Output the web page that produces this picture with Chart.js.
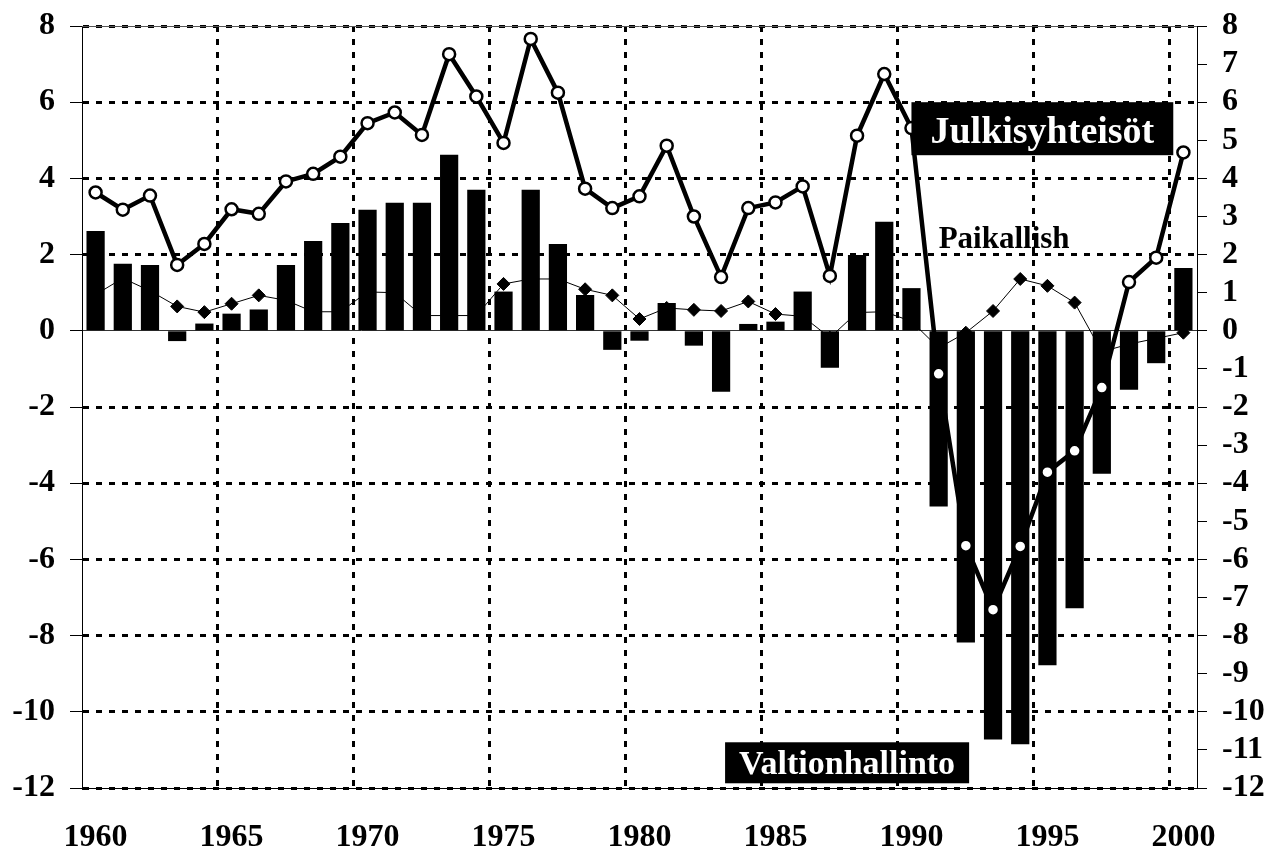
<!DOCTYPE html>
<html lang="fi">
<head>
<meta charset="utf-8">
<title>Julkisyhteisöjen rahoitusjäämä</title>
<script src="https://cdn.jsdelivr.net/npm/chart.js@4/dist/chart.umd.min.js"></script>
<style>
  html, body { margin: 0; padding: 0; background: #fff; }
  #kaavio { display: block; }
</style>
</head>
<body>
<canvas id="kaavio" width="1269" height="852"></canvas>
<script>
// --- Data (luettu kuvasta) ---
const vuodet = [
  "1960", "1961", "1962", "1963", "1964", "1965", "1966", "1967", "1968", "1969",
  "1970", "1971", "1972", "1973", "1974", "1975", "1976", "1977", "1978", "1979",
  "1980", "1981", "1982", "1983", "1984", "1985", "1986", "1987", "1988", "1989",
  "1990", "1991", "1992", "1993", "1994", "1995", "1996", "1997", "1998", "1999",
  "2000"
];

// Valtionhallinto (pylväät)
const valtio = [
  2.62, 1.76, 1.73, -0.27, 0.19, 0.45, 0.56, 1.73, 2.36, 2.83,
  3.18, 3.36, 3.36, 4.62, 3.70, 1.03, 3.70, 2.28, 0.94, -0.50,
  -0.26, 0.73, -0.39, -1.60, 0.18, 0.24, 1.03, -0.97, 1.99, 2.86,
  1.12, -4.61, -8.18, -10.73, -10.85, -8.78, -7.28, -3.75, -1.55, -0.85,
  1.65
];

// Julkisyhteisöt (paksu viiva, valkoiset pallot)
const julkiset = [
  3.63, 3.18, 3.55, 1.73, 2.28, 3.19, 3.07, 3.92, 4.12, 4.57,
  5.45, 5.73, 5.14, 7.26, 6.15, 4.93, 7.66, 6.25, 3.73, 3.22,
  3.53, 4.86, 3.00, 1.41, 3.22, 3.37, 3.79, 1.44, 5.12, 6.74,
  5.32, -1.13, -5.64, -7.32, -5.66, -3.71, -3.15, -1.49, 1.28, 1.92,
  4.68
];

// Paikallishallinto (ohut viiva, vinoneliöt)
const paikalliset = [
  0.95, 1.38, 1.05, 0.64, 0.49, 0.71, 0.93, 0.80, 0.50, 0.50,
  1.02, 1.00, 0.40, 0.40, 0.40, 1.23, 1.36, 1.36, 1.09, 0.93,
  0.31, 0.60, 0.55, 0.52, 0.77, 0.44, 0.38, -0.18, 0.48, 0.50,
  0.25, -0.45, -0.05, 0.52, 1.36, 1.18, 0.74, -0.55, -0.35, -0.20,
  -0.05
];

const vasenAsteikko = { min: -12, max: 8, askel: 2 };
const oikeaAsteikko = { min: -12, max: 8, askel: 1 };

const FONTTI = "'Liberation Serif', 'Times New Roman', serif";

// Tekstilaatikot kuvan sisällä
const merkinnat = {
  id: "merkinnat",
  afterDatasetsDraw(chart) {
    const { ctx, chartArea } = chart;
    const x = chart.scales.x;
    const y = chart.scales.y;
    ctx.save();

    // ohut yläreuna
    ctx.strokeStyle = "#555";
    ctx.lineWidth = 1;
    ctx.beginPath();
    ctx.moveTo(chartArea.left, chartArea.top + 0.5);
    ctx.lineTo(chartArea.right, chartArea.top + 0.5);
    ctx.stroke();

    function laatikko(teksti, vasen, yla, korkeus, koko, reunus, perusviiva) {
      ctx.font = "bold " + koko + "px " + FONTTI;
      const leveys = ctx.measureText(teksti).width + reunus * 2;
      ctx.fillStyle = "#000";
      ctx.fillRect(vasen, yla, leveys, korkeus);
      ctx.fillStyle = "#fff";
      ctx.textAlign = "left";
      ctx.textBaseline = "alphabetic";
      ctx.fillText(teksti, vasen + reunus, yla + perusviiva);
    }

    laatikko("Julkisyhteisöt", x.getPixelForValue(30), y.getPixelForValue(6), 53, 38, 19, 41);
    laatikko("Valtionhallinto", x.getPixelForValue(23) + 4, y.getPixelForValue(-10.8), 41, 34, 14, 32);

    ctx.font = "bold 31px " + FONTTI;
    ctx.fillStyle = "#000";
    ctx.textAlign = "left";
    ctx.textBaseline = "alphabetic";
    ctx.fillText("Paikallish", x.getPixelForValue(31), y.getPixelForValue(2.17));

    ctx.restore();
  },
};

const ctx = document.getElementById("kaavio").getContext("2d");

// pystyakselit: kiinteä leveys, ei ylimääräistä tilaa ylä/alapuolelle
const kiinnita = (leveys) => (s) => {
  s.width = leveys;
  s.paddingTop = 0;
  s.paddingBottom = 0;
};

new Chart(ctx, {
  type: "bar",
  data: {
    labels: vuodet,
    datasets: [
      {
        type: "line",
        label: "Paikallishallinto",
        data: paikalliset,
        borderColor: "#000",
        borderWidth: 1,
        pointStyle: "rectRot",
        pointRadius: 6.5,
        pointBackgroundColor: "#000",
        pointBorderColor: "#000",
        pointBorderWidth: 1,
        tension: 0,
        order: 3,
      },
      {
        type: "bar",
        label: "Valtionhallinto",
        data: valtio,
        backgroundColor: "#000",
        borderWidth: 0,
        barPercentage: 0.67,
        categoryPercentage: 1,
        order: 2,
      },
      {
        type: "line",
        label: "Julkisyhteisöt",
        data: julkiset,
        borderColor: "#000",
        borderWidth: 4.5,
        pointRadius: 6,
        pointBackgroundColor: "#fff",
        pointBorderColor: "#000",
        pointBorderWidth: 2.5,
        tension: 0,
        order: 1,
      },
    ],
  },
  options: {
    responsive: false,
    devicePixelRatio: 1,
    animation: false,
    events: [],
    layout: { padding: { top: 26, left: 0, right: 0, bottom: 0 } },
    plugins: {
      legend: { display: false },
      tooltip: { enabled: false },
    },
    scales: {
      x: {
        type: "category",
        offset: true,
        afterFit: (s) => { s.height = 64; },
        grid: {
          offset: true,
          drawTicks: false,
          lineWidth: 3,
          color: (c) => (c.index > 0 && c.index < vuodet.length && c.index % 5 === 0 ? "#000" : "rgba(0,0,0,0)"),
        },
        border: { display: true, color: "#000", width: 1, dash: [6, 7] },
        ticks: {
          autoSkip: false,
          maxRotation: 0,
          minRotation: 0,
          padding: 31,
          color: "#000",
          font: { family: FONTTI, size: 32, weight: "bold" },
          callback: function (val) {
            const v = this.getLabelForValue(val);
            return Number(v) % 5 === 0 ? v : "";
          },
        },
      },
      y: {
        position: "left",
        min: vasenAsteikko.min,
        max: vasenAsteikko.max,
        afterFit: kiinnita(82),
        grid: {
          tickLength: 12,
          tickColor: "#000",
          tickWidth: 1,
          color: (c) => (c.tick && c.tick.value === 0 ? "#333" : "#000"),
          lineWidth: (c) => (c.tick && c.tick.value === 0 ? 1 : 3),
        },
        border: {
          display: true,
          color: "#000",
          width: 1,
          dash: (c) => (c.tick && c.tick.value === 0 ? [] : [6, 7]),
        },
        ticks: {
          stepSize: vasenAsteikko.askel,
          autoSkip: false,
          padding: 15,
          color: "#000",
          font: { family: FONTTI, size: 32, weight: "bold" },
        },
      },
      y2: {
        position: "right",
        min: oikeaAsteikko.min,
        max: oikeaAsteikko.max,
        afterFit: kiinnita(72),
        grid: {
          drawOnChartArea: false,
          tickLength: 10,
          tickColor: "#000",
          tickWidth: 1,
        },
        border: { display: true, color: "#000", width: 1 },
        ticks: {
          stepSize: oikeaAsteikko.askel,
          autoSkip: false,
          padding: 15,
          color: "#000",
          font: { family: FONTTI, size: 32, weight: "bold" },
        },
      },
    },
  },
  plugins: [merkinnat],
});
</script>
</body>
</html>
